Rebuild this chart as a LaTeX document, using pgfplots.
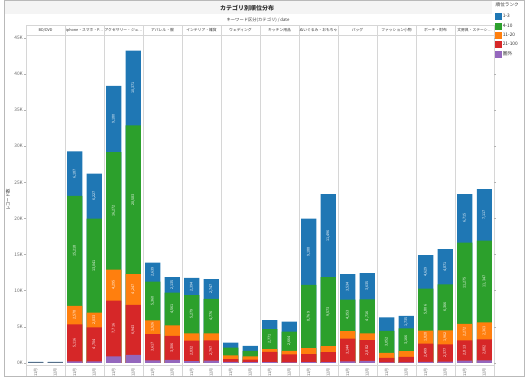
\documentclass[border=0pt]{standalone}
\usepackage{pgfplots}
\pgfplotsset{compat=1.18}
\usepackage{pgfplotstable}
\usepackage{fontspec}
\setmainfont{Noto Sans CJK JP}
\definecolor{cB}{HTML}{1F77B4}
\definecolor{cG}{HTML}{2CA02C}
\definecolor{cO}{HTML}{FF7F0E}
\definecolor{cR}{HTML}{D62728}
\definecolor{cP}{HTML}{9467BD}
\definecolor{sepc}{HTML}{D6D6D6}
\definecolor{txt}{HTML}{333333}
\definecolor{tickc}{HTML}{6A6A6A}

% segment values per bar: p = 圏外, r = 21-100, o = 11-20, g = 4-10, b = 1-3 ; l* = label shown
\pgfplotstableread{
x    p    r     o     g      b      lp lr lo lg lb
0.5  0    0     0     0      150    0  0  0  0  0
1.5  0    0     0     0      140    0  0  0  0  0
2.5  200  5116  2578  15218  6187   0  1  1  1  1
3.5  200  4704  2033  13041  6227   0  1  1  1  1
4.5  900  7716  4295  16272  9180   0  1  1  1  1
5.5  1100 6943  4247  20583  10371  0  1  1  1  1
6.5  350  3617  1926  5360   2639   0  1  1  1  1
7.5  420  3306  1450  4561   2135   0  1  0  1  1
8.5  250  2832  1000  5279   2394   0  1  0  1  1
9.5  300  2797  980   4776   2747   0  1  0  1  1
10.5 120  400   500   1100   690    0  0  0  0  0
11.5 100  330   460   780    690    0  0  0  0  0
12.5 100  1430  370   2771   1250   0  0  0  1  0
13.5 50   1110  500   2664   1380   0  0  0  1  0
14.5 100  1100  830   8769   9188   0  0  0  1  1
15.5 100  1400  800   9573   11496  0  0  0  1  1
16.5 200  3144  1060  4353   3534   0  1  0  1  1
17.5 270  2882  920   4716   3635   0  1  0  1  1
18.5 50   650   690   3052   1850   0  0  0  1  0
19.5 50   780   780   3166   1735   0  0  0  1  1
20.5 150  2499  1828  5806   4629   0  1  1  1  1
21.5 170  2377  1962  6366   4871   0  1  1  1  1
22.5 300  2813  2272  11275  6715   0  1  1  1  1
23.5 350  2882  2363  11347  7117   0  1  1  1  1
}\data

\pgfplotsset{
  sq legend/.style={legend image code/.code={\fill[##1] (0pt,-3.5pt) rectangle (7pt,3.5pt);}},
  barp/.style={ybar, bar width=0.77, bar shift=0pt, fill=#1, draw=none, sq legend},
  lab/.style={draw=none, mark=none, forget plot,
     point meta=\thisrow{#1},
     restrict expr to domain={\thisrow{l#1}}{0.5:1.5},
     nodes near coords={\pgfmathprintnumber[fixed,precision=0,1000 sep={,},assume math mode=true]{\pgfplotspointmeta}},
     every node near coord/.style={rotate=90, anchor=center, text=white,
        font=\fontsize{3.7}{4}\selectfont, inner sep=0pt}},
}

\begin{document}
\begin{tikzpicture}
\useasboundingbox (0,0) rectangle (529pt,382pt);
\fill[gray!9] (5pt,368pt) rectangle (492pt,381pt);
\draw[gray!55, line width=0.6pt] (4pt,6pt) rectangle (524.5pt,381.5pt);
% panel separators and header row
\foreach \k in {0,...,12} {\draw[sepc, line width=0.6pt] ({26pt+39pt*\k},6pt) -- ({26pt+39pt*\k},357pt);}
\draw[sepc, line width=0.6pt] (26pt,357pt) -- (494pt,357pt);
\draw[sepc, line width=0.6pt] (26pt,347pt) -- (494pt,347pt);
\draw[sepc, line width=0.6pt] (26pt,17pt) -- (494pt,17pt);
\begin{axis}[
  at={(26pt,17pt)}, anchor=south west,
  scale only axis, width=468pt, height=330pt,
  xmin=0, xmax=24, ymin=-300, ymax=45406,
  enlargelimits=false,
  clip=false,
  axis line style={draw=none},
  scaled y ticks=false,
  xtick={0.5,1.5,2.5,3.5,4.5,5.5,6.5,7.5,8.5,9.5,10.5,11.5,12.5,13.5,14.5,15.5,16.5,17.5,18.5,19.5,20.5,21.5,22.5,23.5},
  xticklabels={11月,12月,11月,12月,11月,12月,11月,12月,11月,12月,11月,12月,11月,12月,11月,12月,11月,12月,11月,12月,11月,12月,11月,12月},
  xtick style={draw=none},
  xticklabel style={rotate=90, anchor=east, font=\fontsize{4}{4.5}\selectfont, text=tickc, inner sep=1pt},
  ytick={0,5000,10000,15000,20000,25000,30000,35000,40000,45000},
  yticklabels={0K,5K,10K,15K,20K,25K,30K,35K,40K,45K},
  ytick style={draw=gray!60, line width=0.4pt},
  tick align=outside, major tick length=2pt,
  yticklabel style={font=\fontsize{4.8}{5}\selectfont, text=tickc, inner sep=1pt},
  ylabel={レコード数},
  every axis y label/.style={at={(rel axis cs:0,0.5)}, xshift=-18pt, rotate=90, anchor=center, font=\fontsize{4.4}{5}\selectfont, text=txt},
  legend style={draw=none, fill=none, at={(1.0021,1.0667)}, anchor=north west,
    font=\fontsize{4.8}{5.5}\selectfont, text=txt, row sep=2.4pt, inner sep=0pt,
    nodes={inner sep=0.6pt}, cells={anchor=west}},
]
% stacked bars: each segment drawn over the one above it
\addplot[barp=cB] table[x=x, y expr=\thisrow{p}+\thisrow{r}+\thisrow{o}+\thisrow{g}+\thisrow{b}]{\data};
\addlegendentry{1-3}
\addplot[barp=cG] table[x=x, y expr=\thisrow{p}+\thisrow{r}+\thisrow{o}+\thisrow{g}]{\data};
\addlegendentry{4-10}
\addplot[barp=cO] table[x=x, y expr=\thisrow{p}+\thisrow{r}+\thisrow{o}]{\data};
\addlegendentry{11-20}
\addplot[barp=cR] table[x=x, y expr=\thisrow{p}+\thisrow{r}]{\data};
\addlegendentry{21-100}
\addplot[barp=cP] table[x=x, y=p]{\data};
\addlegendentry{圏外}
% value labels at the middle of each segment
\addplot[lab=r] table[x=x, y expr=\thisrow{p}+0.5*\thisrow{r}]{\data};
\addplot[lab=o] table[x=x, y expr=\thisrow{p}+\thisrow{r}+0.5*\thisrow{o}]{\data};
\addplot[lab=g] table[x=x, y expr=\thisrow{p}+\thisrow{r}+\thisrow{o}+0.5*\thisrow{g}]{\data};
\addplot[lab=b] table[x=x, y expr=\thisrow{p}+\thisrow{r}+\thisrow{o}+\thisrow{g}+0.5*\thisrow{b}]{\data};
\end{axis}
\begin{scope}[every node/.style={font=\fontsize{3.8}{4.2}\selectfont, text=txt, inner sep=0pt}]
\node at (45.5pt,352pt) {BD/DVD};
\node at (84.5pt,352pt) {iphone・スマホ・P…};
\node at (123.5pt,352pt) {アクセサリー・ジュ…};
\node at (162.5pt,352pt) {アパレル・服};
\node at (201.5pt,352pt) {インテリア・雑貨};
\node at (240.5pt,352pt) {ウェディング};
\node at (279.5pt,352pt) {キッチン用品};
\node at (318.5pt,352pt) {ぬいぐるみ・おもちゃ};
\node at (357.5pt,352pt) {バッグ};
\node at (396.5pt,352pt) {ファッション小物};
\node at (435.5pt,352pt) {ポーチ・財布};
\node at (474.5pt,352pt) {文房具・ステーシ…};
\end{scope}
\node[font=\fontsize{6}{7}\selectfont\bfseries, text=txt] at (247pt,374pt) {カテゴリ別順位分布};
\node[font=\fontsize{4.3}{5}\selectfont, text=txt] at (258pt,362pt) {キーワード区分(カテゴリ) / date};
\node[font=\fontsize{4.6}{5.2}\selectfont, text=txt, anchor=west, inner sep=0pt] at (495.5pt,377pt) {順位ランク};
\end{tikzpicture}
\end{document}
